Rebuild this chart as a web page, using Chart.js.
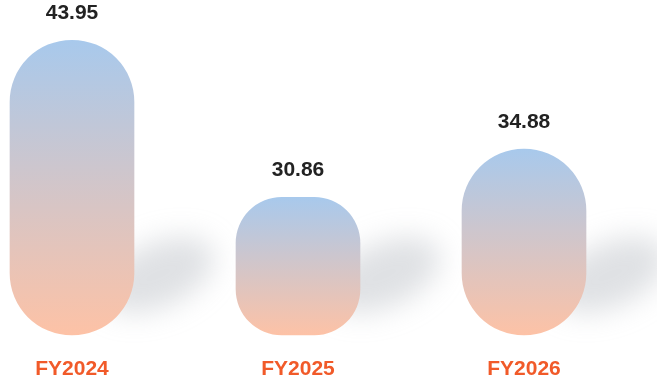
<!DOCTYPE html>
<html>
<head>
<meta charset="utf-8">
<script src="https://cdn.jsdelivr.net/npm/chart.js@4"></script>
<style>
  html, body { margin: 0; padding: 0; background: #fff; }
  #wrap { width: 657px; height: 380px; }
</style>
</head>
<body>
<div id="wrap"><canvas id="fyChart"></canvas></div>
<script>
// Data for the chart
const categories = ['FY2024', 'FY2025', 'FY2026'];
const values = [43.95, 30.86, 34.88];
const axisMin = 19.4;
const axisMax = 44.8;

// Soft shadow cast to the right of every bar
const shadowPlugin = {
    id: 'barShadow',
    beforeDatasetsDraw(chart) {
        const ctx = chart.ctx;
        chart.getDatasetMeta(0).data.forEach(bar => {
            const right = bar.x + bar.width / 2;
            ctx.save();
            ctx.filter = 'blur(14px)';
            ctx.fillStyle = 'rgba(160, 167, 176, 0.34)';
            ctx.beginPath();
            ctx.ellipse(right + 24, bar.base - 60, 60, 32, -0.42, 0, Math.PI * 2);
            ctx.fill();
            ctx.restore();
        });
    }
};

// Value labels above the bars
const valueLabels = {
    id: 'valueLabels',
    afterDatasetsDraw(chart) {
        const ctx = chart.ctx;
        ctx.save();
        ctx.font = 'bold 21px "Liberation Sans", Arial, sans-serif';
        ctx.fillStyle = '#222222';
        ctx.textAlign = 'center';
        ctx.textBaseline = 'middle';
        chart.getDatasetMeta(0).data.forEach((bar, i) => {
            ctx.fillText(values[i].toFixed(2), bar.x, bar.y - 27);
        });
        ctx.restore();
    }
};

function barGradient(context) {
    const chart = context.chart;
    if (!chart.chartArea) return '#d2c6c9';
    const top = chart.scales.y.getPixelForValue(values[context.dataIndex]);
    const g = chart.ctx.createLinearGradient(0, top, 0, chart.chartArea.bottom);
    g.addColorStop(0, '#a8c9ec');
    g.addColorStop(1, '#fdc2a6');
    return g;
}

const config = {
    type: 'bar',
    data: {
        labels: categories,
        datasets: [{
            data: values,
            base: axisMin,
            backgroundColor: barGradient,
            borderWidth: 0,
            borderSkipped: false,
            borderRadius: [62, 46, 62],
            barThickness: 124,
            clip: false
        }]
    },
    options: {
        responsive: true,
        maintainAspectRatio: false,
        animation: false,
        layout: { padding: { left: 72, right: 133, top: 30, bottom: 0 } },
        plugins: {
            legend: { display: false },
            tooltip: { enabled: false }
        },
        scales: {
            x: {
                offset: false,
                grid: { display: false },
                border: { display: false },
                ticks: {
                    color: '#f15a29',
                    padding: 14,
                    maxRotation: 0,
                    font: { family: '"Liberation Sans", Arial, sans-serif', size: 21, weight: 'bold' }
                },
                afterFit(scale) { scale.height = 45; }
            },
            y: {
                display: false,
                min: axisMin,
                max: axisMax
            }
        }
    },
    plugins: [shadowPlugin, valueLabels]
};

// Render the chart
const ctx = document.getElementById('fyChart').getContext('2d');
const fyChart = new Chart(ctx, config);
</script>
</body>
</html>
